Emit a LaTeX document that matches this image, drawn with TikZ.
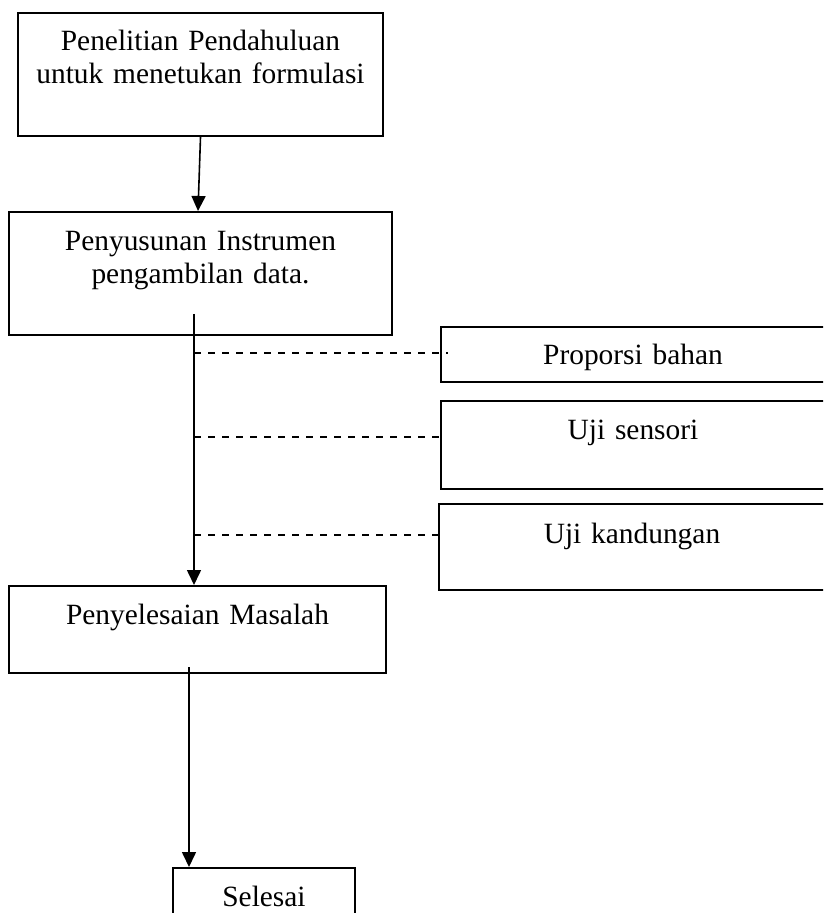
\documentclass[tikz,border=0pt]{standalone}
\usepackage{fontspec}
\setmainfont{Liberation Serif}
\usetikzlibrary{arrows.meta}
\begin{document}
\begin{tikzpicture}[x=0.5pt,y=-0.5pt,
  box/.style={draw, line width=1pt, inner sep=0pt, anchor=north west, align=center,
    font=\fontsize{14.7pt}{16.5pt}\selectfont},
  arr/.style={line width=0.8pt, -{Triangle[length=7.5pt,width=7pt]}},
  dashline/.style={line width=0.8pt, dash pattern=on 3.6pt off 3.4pt}]
\clip (0,0) rectangle (823,913);
\node[box, text width=182.5pt, text height=19pt, text depth=42.5pt] (b1) at (17,12)
  {Penelitian Pendahuluan\\untuk menetukan formulasi};
\node[box, text width=191.5pt, text height=19.5pt, text depth=42pt] (b2) at (8,211)
  {Penyusunan Instrumen\\pengambilan data.};
\node[box, text width=192pt, text height=19pt, text depth=8.5pt] (p1) at (440,326)
  {Proporsi bahan};
\node[box, text width=192pt, text height=19pt, text depth=25pt] (p2) at (440,400)
  {Uji sensori};
\node[box, text width=193pt, text height=19.5pt, text depth=23.5pt] (p3) at (438,503)
  {Uji kandungan};
\node[box, text width=188.5pt, text height=19pt, text depth=24.5pt] (b3) at (8,585)
  {Penyelesaian Masalah};
\node[box, text width=91pt, text height=19pt, text depth=15pt] (b4) at (172,867)
  {Selesai};
\coordinate (spine) at (194,314);
\coordinate (c3) at (189,667);
\draw[arr] (b1.south) -- ([xshift=-1.25pt]b2.north);
\draw[arr] (spine) -- (spine |- b3.north);
\draw[dashline] ([yshift=0.75pt]p1.west -| spine) -- ([xshift=4pt,yshift=0.75pt]p1.west);
\draw[dashline] ([yshift=4pt]p2.west -| spine) -- ([yshift=4pt]p2.west);
\draw[dashline] ([yshift=6pt]p3.west -| spine) -- ([yshift=6pt]p3.west);
\draw[arr] (c3) -- (c3 |- b4.north);
\end{tikzpicture}
\end{document}
